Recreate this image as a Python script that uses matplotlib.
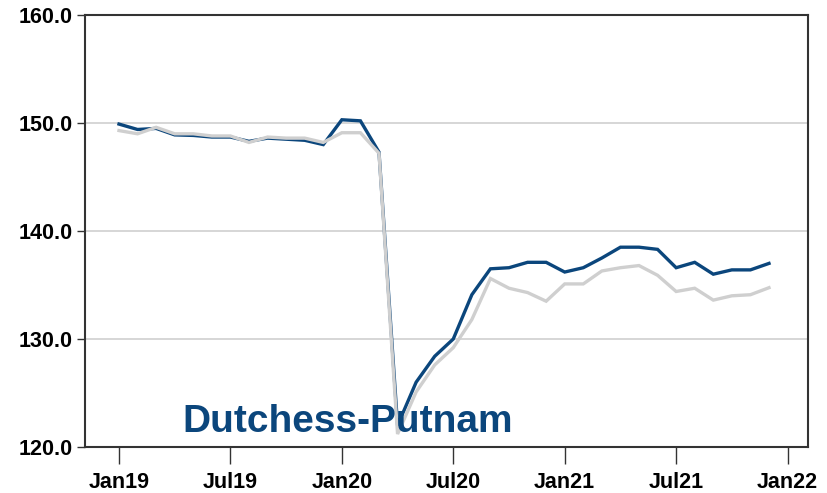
import matplotlib
matplotlib.use("Agg")
import matplotlib.pyplot as plt
from matplotlib import font_manager

months = ["Jan19","Feb19","Mar19","Apr19","May19","Jun19","Jul19","Aug19","Sep19","Oct19","Nov19","Dec19",
          "Jan20","Feb20","Mar20","Apr20","May20","Jun20","Jul20","Aug20","Sep20","Oct20","Nov20","Dec20",
          "Jan21","Feb21","Mar21","Apr21","May21","Jun21","Jul21","Aug21","Sep21","Oct21","Nov21","Dec21"]
dark_series = [149.9, 149.4, 149.5, 148.9, 148.85, 148.7, 148.7, 148.3, 148.6, 148.5, 148.4, 148.0,
               150.3, 150.2, 147.3, 122.0, 126.0, 128.4, 130.0, 134.1, 136.5, 136.6, 137.1, 137.1,
               136.2, 136.6, 137.5, 138.5, 138.5, 138.3, 136.6, 137.1, 136.0, 136.4, 136.4, 137.0]
gray_series = [149.3, 149.0, 149.6, 149.0, 149.0, 148.8, 148.8, 148.2, 148.7, 148.6, 148.6, 148.2,
               149.1, 149.1, 147.2, 121.2, 125.1, 127.6, 129.2, 131.8, 135.6, 134.7, 134.3, 133.5,
               135.1, 135.1, 136.3, 136.6, 136.8, 135.9, 134.4, 134.7, 133.6, 134.0, 134.1, 134.75]
tick_labels = ["Jan19", "Jul19", "Jan20", "Jul20", "Jan21", "Jul21", "Jan22"]
y_ticks = [120, 130, 140, 150, 160]
title_text = "Dutchess-Putnam"

names = {f.name for f in font_manager.fontManager.ttflist}
tick_font = "Liberation Sans Narrow" if "Liberation Sans Narrow" in names else "Liberation Sans"
tick_size = 17 if tick_font == "Liberation Sans Narrow" else 15.5

fig = plt.figure(figsize=(8.28, 4.93), dpi=100)
ax = fig.add_axes([85/828, 46/493, 723/828, 432/493])

x = list(range(len(months)))
ax.plot(x, dark_series, color="#0b467c", lw=2.4, zorder=3, solid_joinstyle="miter")
ax.plot(x, gray_series, color="#cfcfcf", lw=2.4, zorder=4, solid_joinstyle="miter")

ax.set_ylim(120, 160)
ax.set_xlim(-1.83, 37.1)
ax.set_yticks(y_ticks)
ax.set_yticklabels([f"{v:.1f}" for v in y_ticks], fontname=tick_font, fontweight="bold", fontsize=tick_size)
ax.set_xticks([0, 6, 12, 18, 24, 30, 36])
ax.set_xticklabels(tick_labels, fontname=tick_font, fontweight="bold", fontsize=tick_size)
ax.tick_params(axis="x", direction="out", length=12, width=1, color="#333333", pad=6)
ax.tick_params(axis="y", direction="out", length=6, width=1, color="#333333", pad=3)

for v in [130, 140, 150]:
    ax.axhline(v, color="#d0d0d0", lw=1.2, zorder=1)

for s in ax.spines.values():
    s.set_color("#333333")
    s.set_linewidth(1.5)

ax.text(3.4, 121.4, title_text, fontname="Liberation Sans", fontweight="bold", fontsize=28,
        color="#0b467c", zorder=5)

fig.savefig("out.png", dpi=100)
